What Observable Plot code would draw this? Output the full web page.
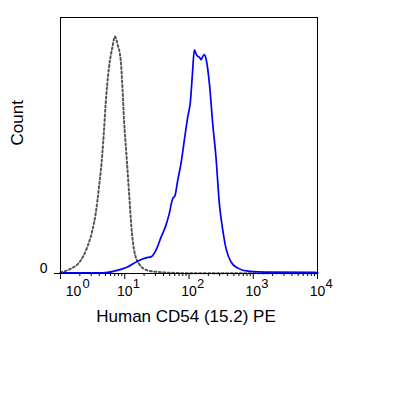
<!DOCTYPE html>
<html>
<head>
<meta charset="utf-8">
<script src="https://cdn.jsdelivr.net/npm/d3@7"></script>
<script src="https://cdn.jsdelivr.net/npm/@observablehq/plot@0.6"></script>
<style>
  html, body { margin: 0; padding: 0; background: #fff; }
  #chart svg { display: block; }
</style>
</head>
<body>
<div id="chart"></div>
<script>
// Isotype control (gray dotted)
const grayX = [1.0, 1.43, 2.05, 2.61, 3.13, 3.52, 3.97, 4.48, 4.75, 5.05, 5.69, 6.42, 7.05, 7.69, 8.66, 9.2, 9.75, 10.6, 11.7, 12.7, 14.0, 16.7, 22.6, 36.5, 107, 1000, 10000];
const grayY = [0.5, 1.8, 5.0, 10.3, 16.8, 23.3, 33.7, 46.8, 55.9, 66.4, 80.6, 88.4, 92.6, 89.7, 83.2, 72.8, 59.8, 46.8, 31.1, 18.1, 9.0, 3.8, 1.2, 0.5, 0.1, 0.1, 0.1];

// CD54 PE stained (blue)
const blueX = [1, 4.7, 6.8, 11.0, 15.8, 21.3, 26.1, 30.5, 36.5, 43.7, 49.2, 55.6, 60.4, 66.6, 75, 84.5, 95.5, 105, 114, 121, 129, 137, 145, 154, 164, 173, 184, 208, 234, 263, 297, 336, 378, 453, 577, 826, 1910, 10000];
const blueY = [0.3, 0.3, 0.9, 2.5, 4.8, 6.1, 6.6, 9.0, 14.0, 18.8, 23.3, 29.2, 30.3, 36.3, 42.9, 52, 61.1, 67, 79.3, 87.4, 85.8, 84.8, 84.5, 83.5, 84.8, 85.5, 83.9, 74.1, 58.5, 45.4, 27.2, 16.8, 9.6, 4.4, 2.1, 0.9, 0.5, 0.4];

const majorTicks = [1, 10, 100, 1000, 10000];
const tickExps = ["0", "1", "2", "3", "4"];
const minorTicks = [];
for (let d = 1; d < 10000; d *= 10) for (let m = 2; m <= 9; m++) minorTicks.push(d * m);

const yTicks = [0];
const yTickLabels = ["0"];
const xLabel = "Human CD54 (15.2) PE";
const yLabel = "Count";

const gray = grayX.map((x, i) => ({x, y: grayY[i]}));
const blue = blueX.map((x, i) => ({x, y: blueY[i]}));
const majors = majorTicks.map((v, i) => ({v, e: tickExps[i], i}));

const font = "Liberation Sans, Arial, sans-serif";

const chart = Plot.plot({
  width: 415,
  height: 395,
  marginLeft: 60,
  marginRight: 98,
  marginTop: 17,
  marginBottom: 122,
  style: {fontFamily: font, background: "#fff", overflow: "visible"},
  x: {type: "log", domain: [1, 10000], axis: null},
  y: {domain: [0, 100], axis: null},
  marks: [
    Plot.axisX({ticks: minorTicks, tickSize: 3, tickFormat: () => "", label: null, strokeWidth: 1, stroke: "#000"}),
    Plot.axisX({ticks: majorTicks, tickSize: 6, tickFormat: () => "", label: null, strokeWidth: 1, stroke: "#000"}),
    Plot.axisY({ticks: yTicks, tickSize: 6, tickFormat: () => "", label: null, stroke: "#000"}),
    Plot.text(yTicks, {x: 1, y: d => d, text: (d, i) => yTickLabels[i], frameAnchor: "left", dx: -13, dy: -5, textAnchor: "end", fontSize: 14, fill: "#000"}),
    // decade labels: "10" plus raised exponent
    Plot.text(majors.filter(d => d.i === 0), {x: "v", text: () => "10", frameAnchor: "bottom", dx: 13, dy: 22, fontSize: 14, fill: "#000"}),
    Plot.text(majors.filter(d => d.i > 0), {x: "v", text: () => "10", frameAnchor: "bottom", dy: 22, fontSize: 14, fill: "#000"}),
    Plot.text(majors.filter(d => d.i === 0), {x: "v", text: "e", frameAnchor: "bottom", dx: 22, dy: 14, textAnchor: "start", fontSize: 13, fill: "#000"}),
    Plot.text(majors.filter(d => d.i > 0), {x: "v", text: "e", frameAnchor: "bottom", dx: 8, dy: 14, textAnchor: "start", fontSize: 13, fill: "#000"}),
    Plot.line(gray, {x: "x", y: "y", stroke: "#555", strokeWidth: 2, strokeDasharray: "2,2.5", curve: "monotone-x"}),
    Plot.line(blue, {x: "x", y: "y", stroke: "#0000ff", strokeWidth: 1.7, curve: "monotone-x"}),
    Plot.frame({stroke: "#000", strokeWidth: 1}),
    Plot.text([yLabel], {text: d => d, frameAnchor: "left", dx: -43, rotate: -90, fontSize: 17, fill: "#000"}),
    Plot.text([xLabel], {text: d => d, frameAnchor: "bottom", dx: -3, dy: 48, fontSize: 17, fill: "#000"})
  ]
});
document.getElementById("chart").appendChild(chart);
</script>
</body>
</html>
